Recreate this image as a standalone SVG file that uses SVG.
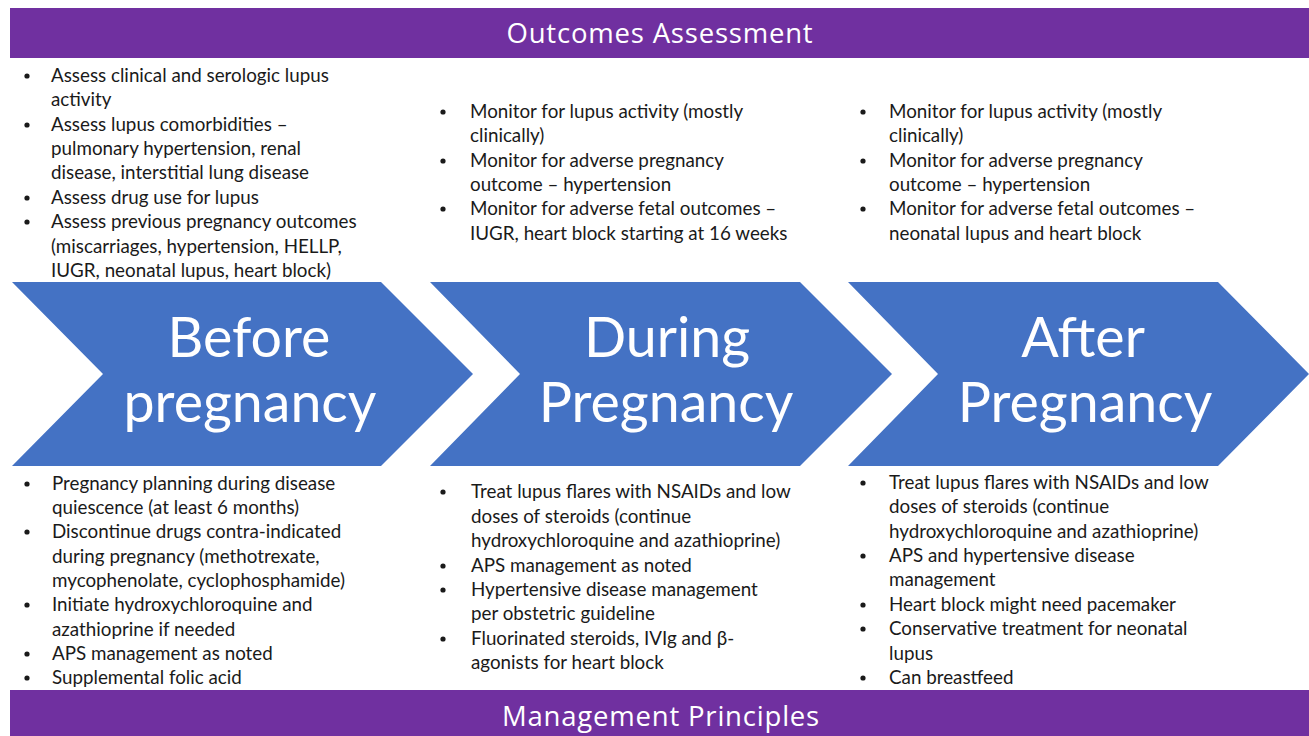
<svg xmlns="http://www.w3.org/2000/svg" width="1309" height="736" viewBox="0 0 1309 736">
  <style>
    .banner { fill: #7030A0; }
    .banner-title { font-family: "Open Sans", "Noto Sans", sans-serif; font-size: 27.5px; fill: #ffffff; text-anchor: middle; letter-spacing: 0.8px; }
    .chev { fill: #4472C4; }
    .chev-label { font-family: Lato, "Liberation Sans", sans-serif; font-size: 55.5px; fill: #ffffff; text-anchor: middle; }
    .body { font-family: Lato, "Liberation Sans", sans-serif; font-size: 18.8px; fill: #1a1a1a; }
    .dot { fill: #1a1a1a; }
  </style>

  <rect width="1309" height="736" fill="#ffffff"/>

  <!-- header and footer bars -->
  <g id="outcomes-banner">
    <rect class="banner" x="10" y="8" width="1299" height="50"/>
    <text class="banner-title" x="660" y="43">Outcomes Assessment</text>
  </g>
  <g id="management-banner">
    <rect class="banner" x="10" y="690" width="1299" height="46"/>
    <text class="banner-title" x="661" y="726">Management Principles</text>
  </g>

  <!-- three chevron stages -->
  <g id="stage-before">
    <polygon class="chev" points="12,282 381,282 473,374 381,466 12,466 103,374"/>
    <text class="chev-label" x="249" y="357">Before</text>
    <text class="chev-label" x="250" y="422">pregnancy</text>
  </g>
  <g id="stage-during">
    <polygon class="chev" points="430,282 800,282 892,374 800,466 430,466 520,374"/>
    <text class="chev-label" x="667" y="357">During</text>
    <text class="chev-label" x="666" y="422">Pregnancy</text>
  </g>
  <g id="stage-after">
    <polygon class="chev" points="848,282 1218,282 1309,374 1218,466 848,466 938,374"/>
    <text class="chev-label" x="1083" y="357">After</text>
    <text class="chev-label" x="1085" y="422">Pregnancy</text>
  </g>

  <!-- no connectors: stages are joined by their chevron shapes -->
  <g id="connectors"/>

  <!-- outcomes assessment lists -->
  <g id="assess-before">
    <circle class="dot" cx="27" cy="76" r="2.6"/>
    <circle class="dot" cx="27" cy="125" r="2.6"/>
    <circle class="dot" cx="27" cy="198" r="2.6"/>
    <circle class="dot" cx="27" cy="222" r="2.6"/>
    <text class="body" x="51" y="82">Assess clinical and serologic lupus</text>
    <text class="body" x="51" y="106">activity</text>
    <text class="body" x="51" y="131">Assess lupus comorbidities –</text>
    <text class="body" x="51" y="155">pulmonary hypertension, renal</text>
    <text class="body" x="51" y="179">disease, interstitial lung disease</text>
    <text class="body" x="51" y="204">Assess drug use for lupus</text>
    <text class="body" x="51" y="228">Assess previous pregnancy outcomes</text>
    <text class="body" x="51" y="253">(miscarriages, hypertension, HELLP,</text>
    <text class="body" x="51" y="277">IUGR, neonatal lupus, heart block)</text>
  </g>
  <g id="assess-during">
    <circle class="dot" cx="443" cy="112" r="2.6"/>
    <circle class="dot" cx="443" cy="161" r="2.6"/>
    <circle class="dot" cx="443" cy="209" r="2.6"/>
    <text class="body" x="470" y="118">Monitor for lupus activity (mostly</text>
    <text class="body" x="470" y="142">clinically)</text>
    <text class="body" x="470" y="167">Monitor for adverse pregnancy</text>
    <text class="body" x="470" y="191">outcome – hypertension</text>
    <text class="body" x="470" y="215">Monitor for adverse fetal outcomes –</text>
    <text class="body" x="470" y="240">IUGR, heart block starting at 16 weeks</text>
  </g>
  <g id="assess-after">
    <circle class="dot" cx="863" cy="112" r="2.6"/>
    <circle class="dot" cx="863" cy="161" r="2.6"/>
    <circle class="dot" cx="863" cy="209" r="2.6"/>
    <text class="body" x="889" y="118">Monitor for lupus activity (mostly</text>
    <text class="body" x="889" y="142">clinically)</text>
    <text class="body" x="889" y="167">Monitor for adverse pregnancy</text>
    <text class="body" x="889" y="191">outcome – hypertension</text>
    <text class="body" x="889" y="215">Monitor for adverse fetal outcomes –</text>
    <text class="body" x="889" y="240">neonatal lupus and heart block</text>
  </g>

  <!-- management principles lists -->
  <g id="manage-before">
    <circle class="dot" cx="27" cy="484" r="2.6"/>
    <circle class="dot" cx="27" cy="532" r="2.6"/>
    <circle class="dot" cx="27" cy="605" r="2.6"/>
    <circle class="dot" cx="27" cy="654" r="2.6"/>
    <circle class="dot" cx="27" cy="678" r="2.6"/>
    <text class="body" x="52" y="490">Pregnancy planning during disease</text>
    <text class="body" x="52" y="514">quiescence (at least 6 months)</text>
    <text class="body" x="52" y="538">Discontinue drugs contra-indicated</text>
    <text class="body" x="52" y="563">during pregnancy (methotrexate,</text>
    <text class="body" x="52" y="587">mycophenolate, cyclophosphamide)</text>
    <text class="body" x="52" y="611">Initiate hydroxychloroquine and</text>
    <text class="body" x="52" y="636">azathioprine if needed</text>
    <text class="body" x="52" y="660">APS management as noted</text>
    <text class="body" x="52" y="684">Supplemental folic acid</text>
  </g>
  <g id="manage-during">
    <circle class="dot" cx="443" cy="492" r="2.6"/>
    <circle class="dot" cx="443" cy="566" r="2.6"/>
    <circle class="dot" cx="443" cy="590" r="2.6"/>
    <circle class="dot" cx="443" cy="639" r="2.6"/>
    <text class="body" x="471" y="498">Treat lupus flares with NSAIDs and low</text>
    <text class="body" x="471" y="523">doses of steroids (continue</text>
    <text class="body" x="471" y="547">hydroxychloroquine and azathioprine)</text>
    <text class="body" x="471" y="572">APS management as noted</text>
    <text class="body" x="471" y="596">Hypertensive disease management</text>
    <text class="body" x="471" y="620">per obstetric guideline</text>
    <text class="body" x="471" y="645">Fluorinated steroids, IVIg and β-</text>
    <text class="body" x="471" y="669">agonists for heart block</text>
  </g>
  <g id="manage-after">
    <circle class="dot" cx="863" cy="483" r="2.6"/>
    <circle class="dot" cx="863" cy="556" r="2.6"/>
    <circle class="dot" cx="863" cy="605" r="2.6"/>
    <circle class="dot" cx="863" cy="629" r="2.6"/>
    <circle class="dot" cx="863" cy="678" r="2.6"/>
    <text class="body" x="889" y="489">Treat lupus flares with NSAIDs and low</text>
    <text class="body" x="889" y="513">doses of steroids (continue</text>
    <text class="body" x="889" y="538">hydroxychloroquine and azathioprine)</text>
    <text class="body" x="889" y="562">APS and hypertensive disease</text>
    <text class="body" x="889" y="586">management</text>
    <text class="body" x="889" y="611">Heart block might need pacemaker</text>
    <text class="body" x="889" y="635">Conservative treatment for neonatal</text>
    <text class="body" x="889" y="660">lupus</text>
    <text class="body" x="889" y="684">Can breastfeed</text>
  </g>
</svg>
